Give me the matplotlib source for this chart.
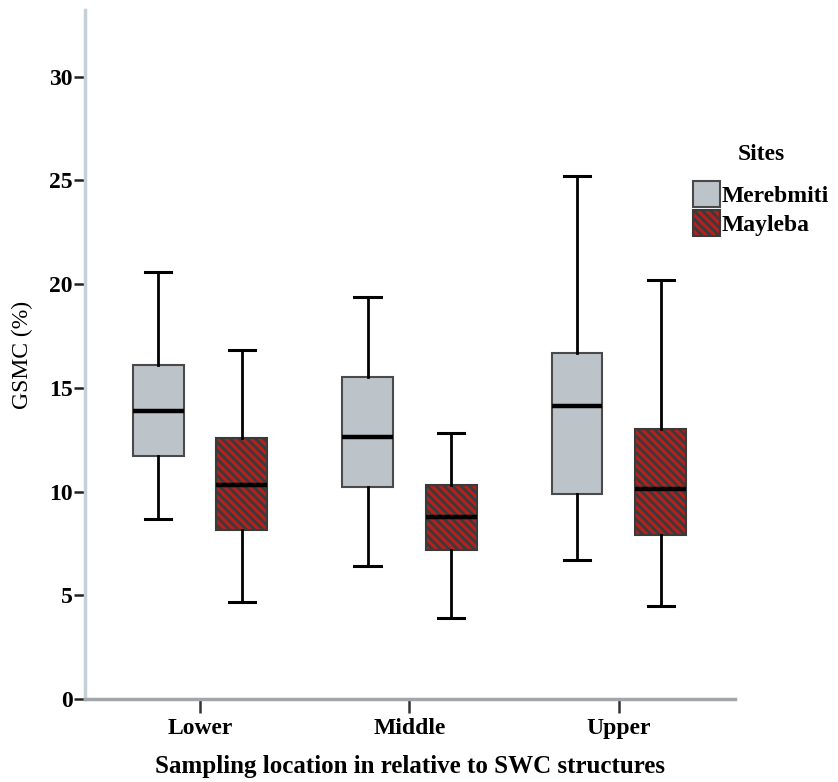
import matplotlib
matplotlib.use("Agg")
import matplotlib.pyplot as plt
from matplotlib.patches import Patch

plt.rcParams['font.family'] = ['Liberation Serif', 'DejaVu Serif']
plt.rcParams['hatch.linewidth'] = 2.0

categories = ["Lower", "Middle", "Upper"]
sites = ["Merebmiti", "Mayleba"]
# per site: whislo, q1, median, q3, whishi for Lower, Middle, Upper
merebmiti_low = [8.7, 6.4, 6.7]
merebmiti_q1 = [11.7, 10.2, 9.9]
merebmiti_med = [13.9, 12.65, 14.1]
merebmiti_q3 = [16.1, 15.5, 16.7]
merebmiti_high = [20.6, 19.4, 25.2]
mayleba_low = [4.7, 3.9, 4.5]
mayleba_q1 = [8.15, 7.2, 7.9]
mayleba_med = [10.3, 8.75, 10.1]
mayleba_q3 = [12.6, 10.3, 13.0]
mayleba_high = [16.8, 12.8, 20.2]
yticks = [0, 5, 10, 15, 20, 25, 30]

fig = plt.figure(figsize=(8.38, 7.82), dpi=100)
ax = fig.add_axes([0.1014, 0.1061, 0.7756, 0.8809])

def stats(lo, q1, med, q3, hi):
    return [dict(whislo=a, q1=b, med=c, q3=d, whishi=e, fliers=[])
            for a, b, c, d, e in zip(lo, q1, med, q3, hi)]

common = dict(widths=0.243, patch_artist=True, showfliers=False,
              whiskerprops=dict(color='black', linewidth=2.0),
              capprops=dict(color='black', linewidth=2.2),
              medianprops=dict(color='black', linewidth=3.2))
xs = list(range(len(categories)))
b1 = ax.bxp(stats(merebmiti_low, merebmiti_q1, merebmiti_med, merebmiti_q3, merebmiti_high),
            positions=[x - 0.2 for x in xs],
            boxprops=dict(facecolor='#bcc3c9', edgecolor='#4a4a4a', linewidth=1.5),
            capwidths=0.125, **common)
b2 = ax.bxp(stats(mayleba_low, mayleba_q1, mayleba_med, mayleba_q3, mayleba_high),
            positions=[x + 0.2 for x in xs],
            boxprops=dict(facecolor='#b4201e', edgecolor='#3a3a3a', linewidth=1.5),
            capwidths=0.125, **common)
for p in b2['boxes']:
    p.set_hatch('\\\\\\\\')

ax.set_xlim(-0.549, 2.554)
ax.set_ylim(0, 33.2)
ax.set_xticks(xs)
ax.set_xticklabels(categories, fontsize=17, fontweight='bold')
ax.set_yticks(yticks)
ax.set_yticklabels([str(t) for t in yticks], fontsize=17, fontweight='bold')
ax.tick_params(axis='y', direction='out', length=8, width=1.8, color='#222222', pad=1)
ax.tick_params(axis='x', direction='out', length=10, width=1.8, color='#333333', pad=4)
for s in ['top', 'right']:
    ax.spines[s].set_visible(False)
ax.spines['left'].set_color('#c5d0d6')
ax.spines['left'].set_linewidth(2.5)
ax.spines['bottom'].set_color('#a0a6aa')
ax.spines['bottom'].set_linewidth(2.5)

ax.set_xlabel("Sampling location in relative to SWC structures", fontsize=18,
              fontweight='bold', labelpad=11)
ax.set_ylabel("GSMC (%)", fontsize=17, labelpad=11)

handles = [Patch(facecolor='#bcc3c9', edgecolor='#4a4a4a', linewidth=1.5),
           Patch(facecolor='#b4201e', edgecolor='#3a3a3a', linewidth=1.5, hatch='\\\\\\\\')]
leg = fig.legend(handles, sites, title="Sites", loc='upper left',
                 bbox_to_anchor=(0.825, 0.818), frameon=False,
                 prop=dict(size=17, weight='bold'), handlelength=1.15, handleheight=1.3,
                 handletextpad=0.1, labelspacing=0.12, borderpad=0.05, borderaxespad=0)
leg.get_title().set_fontsize(17)
leg.get_title().set_fontweight('bold')
leg._legend_box.sep = 12

fig.savefig("out.png", dpi=100)
